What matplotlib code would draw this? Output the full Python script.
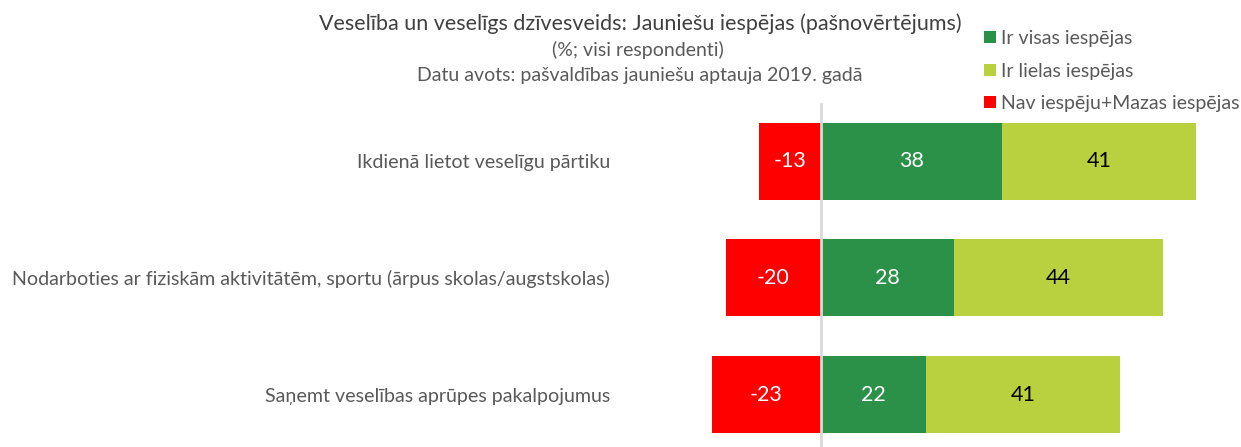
import matplotlib.pyplot as plt
import numpy as np

plt.rcParams['font.family'] = ['Lato', 'DejaVu Sans']

categories = [
    "Ikdienā lietot veselīgu pārtiku",
    "Nodarboties ar fiziskām aktivitātēm, sportu (ārpus skolas/augstskolas)",
    "Saņemt veselības aprūpes pakalpojumus",
]
visas = [38, 28, 22]
lielas = [41, 44, 41]
nav = [-13, -20, -23]
series_names = ["Ir visas iespējas", "Ir lielas iespējas", "Nav iespēju+Mazas iespējas"]

c_green = "#2B9149"
c_lime = "#B9D13F"
c_red = "#FF0000"
grey = "#595959"

W, H = 1241, 447
fig = plt.figure(figsize=(W / 100, H / 100), dpi=100)
# axes placed in pixel terms: zero line at x=821
ax = fig.add_axes([631 / W, 0, (1239 - 631) / W, (447 - 103) / H])

y = np.arange(len(categories))
h = 0.66
b1 = ax.barh(y, visas, height=h, color=c_green, label=series_names[0])
b2 = ax.barh(y, lielas, left=visas, height=h, color=c_lime, label=series_names[1])
b3 = ax.barh(y, nav, height=h, color=c_red, label=series_names[2])

ax.bar_label(b1, labels=[str(v) for v in visas], label_type='center', color='white', fontsize=15.5)
ax.bar_label(b2, labels=[str(v) for v in lielas], label_type='center', color='black', fontsize=15.5)
ax.bar_label(b3, labels=[str(v) for v in nav], label_type='center', color='white', fontsize=15.5)

ax.axvline(0, color="#d9d9d9", lw=2, zorder=3)

ax.set_xlim(-40, 88)
ax.set_ylim(2.45, -0.5)
ax.set_xticks([])
ax.set_yticks(y)
ax.set_yticklabels(categories, fontsize=14.1, color=grey)
ax.tick_params(axis='y', length=0, pad=15)
for s in ax.spines.values():
    s.set_visible(False)

fig.text(640 / W, 1 - 24 / H, "Veselība un veselīgs dzīvesveids: Jauniešu iespējas (pašnovērtējums)",
         ha='center', va='center', fontsize=15.5, color="#404040")
fig.text(638 / W, 1 - 50 / H, "(%; visi respondenti)", ha='center', va='center', fontsize=14, color=grey)
fig.text(640 / W, 1 - 76 / H, "Datu avots: pašvaldības jauniešu aptauja 2019. gadā",
         ha='center', va='center', fontsize=14, color=grey)

leg = fig.legend(handles=[b1, b2, b3], loc='upper left', bbox_to_anchor=(984 / W, 1 - 30 / H),
                 frameon=False, fontsize=14, labelcolor=grey, handlelength=0.6, handleheight=0.6,
                 handletextpad=0.3, labelspacing=0.8, borderaxespad=0, borderpad=0)

fig.savefig("out.png", dpi=100)
